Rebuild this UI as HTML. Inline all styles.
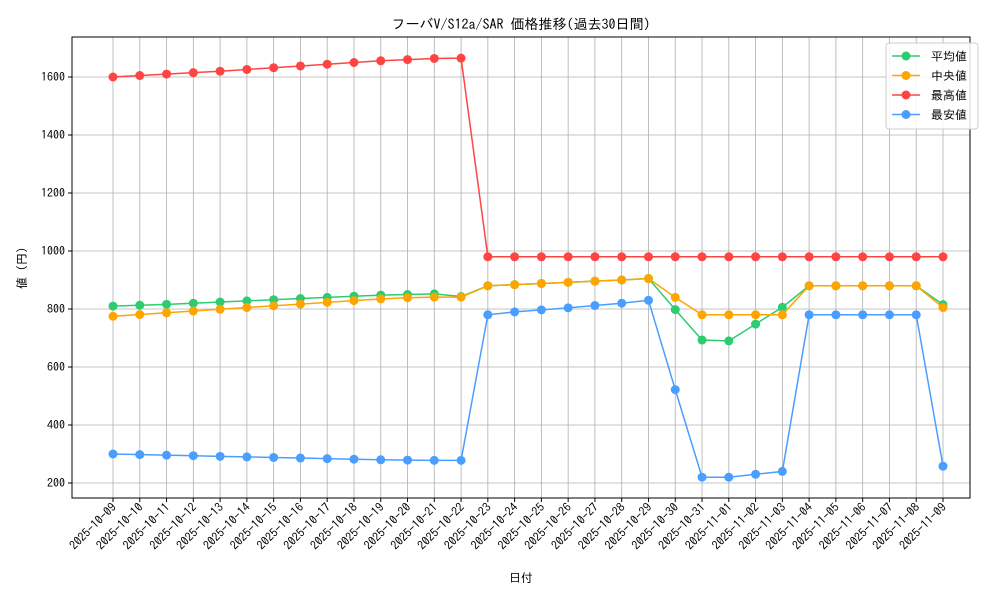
<!DOCTYPE html>
<html><head><meta charset="utf-8"><style>
html,body{margin:0;padding:0;background:#fff}
svg text{font-family:"IPAGothic","Noto Sans CJK JP",sans-serif;fill:#000}
</style></head><body>
<svg id="s" width="1000" height="600" xmlns="http://www.w3.org/2000/svg"></svg>
<script>
const s=document.getElementById('s');
const L=72,R=970,T=37,B=498;
const N=32;
const x0=113,dx=(943-113)/(N-1);
const y=v=>483-(v-200)*0.29;
const X=i=>x0+i*dx;
let h='';
for(let i=0;i<N;i++)h+=`<line x1="${X(i)}" y1="${T}" x2="${X(i)}" y2="${B}" stroke="#b0b0b0" stroke-width="0.8"/>`;
for(let v=200;v<=1600;v+=200)h+=`<line x1="${L}" y1="${y(v)}" x2="${R}" y2="${y(v)}" stroke="#b0b0b0" stroke-width="0.8"/>`;
h+=`<rect x="${L}" y="${T}" width="${R-L}" height="${B-T}" fill="none" stroke="#000" stroke-width="1"/>`;
for(let v=200;v<=1600;v+=200){h+=`<line x1="${L-4}" y1="${y(v)}" x2="${L}" y2="${y(v)}" stroke="#000"/><text x="${L-7}" y="${y(v)+4}" font-size="12" text-anchor="end">${v}</text>`;}
const d0=Date.UTC(2025,9,9);
for(let i=0;i<N;i++){const t=new Date(d0+i*864e5).toISOString().slice(0,10);
h+=`<line x1="${X(i)}" y1="${B}" x2="${X(i)}" y2="${B+4}" stroke="#000"/>`;
h+=`<text transform="translate(${X(i)+4},${B+10}) rotate(-45)" font-size="12" text-anchor="end">${t}</text>`;}
const avg=[810,813,816,820,824,828,832,836,840,844,848,850,852,843,880,884,888,892,896,900,905,798,693,690,748,806,880,880,880,880,880,815];
const med=[775,781,787,793,799,805,811,817,823,829,835,839,841,841,880,884,888,892,896,900,905,840,780,780,780,780,880,880,880,880,880,805];
const mx=[1600,1605,1610,1615,1620,1626,1632,1638,1644,1650,1656,1660,1664,1665,980,980,980,980,980,980,980,980,980,980,980,980,980,980,980,980,980,980];
const mn=[300,298,296,294,292,290,288,286,284,282,280,279,278,278,780,790,797,804,812,820,830,522,220,220,230,240,780,780,780,780,780,258];
const ser=[[avg,'#2ecc71'],[med,'#ffa500'],[mx,'#ff4444'],[mn,'#4a9eff']];
for(const[d,c]of ser){h+=`<polyline fill="none" stroke="${c}" stroke-width="1.5" points="${d.map((v,i)=>X(i)+','+y(v)).join(' ')}"/>`;
d.forEach((v,i)=>h+=`<circle cx="${X(i)}" cy="${y(v)}" r="4.5" fill="${c}"/>`);}
h+=`<rect x="886" y="43" width="92" height="86" fill="#fff" fill-opacity="0.85" stroke="#ccc" rx="3"/>`;
const names=['平均値','中央値','最高値','最安値'];
ser.forEach(([d,c],k)=>{const yy=56+k*19.5;h+=`<line x1="892" y1="${yy}" x2="920" y2="${yy}" stroke="${c}" stroke-width="1.5"/><circle cx="906" cy="${yy}" r="4.5" fill="${c}"/><text x="931" y="${yy+4.5}" font-size="12">${names[k]}</text>`;});
h+=`<text x="521" y="29" font-size="14" text-anchor="middle">フーバV/S12a/SAR 価格推移(過去30日間)</text>`;
h+=`<text x="521" y="582" font-size="12" text-anchor="middle">日付</text>`;
h+=`<text transform="translate(26,268) rotate(-90)" font-size="12" text-anchor="middle">値 (円)</text>`;
s.innerHTML=h;
</script>
</body></html>
